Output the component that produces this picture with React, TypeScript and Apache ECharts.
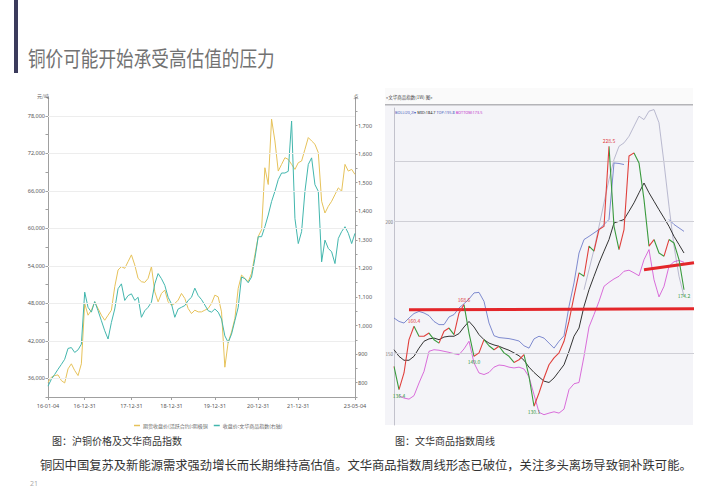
import React, { useEffect, useRef } from "react";
import * as echarts from "echarts";

// ---------------- Left chart: 沪铜价格及文华商品指数 ----------------
const copperTickLabels = ["16-01-04", "16-12-31", "17-12-31", "18-12-31", "19-12-31", "20-12-31", "21-12-31", "23-05-04"];
const copperTickIndex = [0, 11, 25, 37, 50, 63, 75, 92];
const copperAnchorDates = ["2016-01-04", "2016-12-31", "2017-12-31", "2018-12-31", "2019-12-31", "2020-12-31", "2021-12-31", "2023-05-04"];

const copperPrice = [
  35360, 36160, 36430, 36540, 35630, 35250, 37500, 38310, 37240, 36430,
  38310, 47960, 46090, 46890, 48230, 47160, 46090, 45280, 46090, 46890,
  50640, 53320, 53860, 53590, 54660, 55740, 54130, 51980, 51450, 51340,
  51980, 53860, 49840, 48230, 49570, 50110, 48230, 47690, 47960, 48500,
  49570, 48770, 47160, 46350, 46890, 46620, 46620, 46890, 47160, 47960,
  49300, 49030, 46620, 37770, 41790, 43400, 45550, 50380, 52510, 51980,
  51450, 52790, 55740, 58690, 59760, 69680, 67000, 77460, 73970, 69150,
  70220, 71290, 71020, 70220, 69420, 70490, 70760, 72630, 74510, 73970,
  73440, 72100, 64320, 62440, 63510, 64320, 65390, 66460, 65930, 70220,
  69150, 69420, 68610,
];

const wenhuaIndex = [
  788, 812, 829, 847, 864, 882, 920, 923, 906, 915,
  935, 1117, 1064, 1047, 1084, 1052, 1017, 982, 953, 1011,
  1058, 1129, 1146, 1088, 1105, 1111, 1088, 1099, 1029, 1052,
  1064, 1082, 1146, 1182, 1164, 1141, 1099, 1076, 1029, 1058,
  1064, 1070, 1088, 1099, 1131, 1105, 1091, 1072, 1052, 1047,
  1058, 1047, 1023, 964, 941, 970, 1017, 1064, 1170, 1164,
  1150, 1170, 1235, 1311, 1311, 1346, 1387, 1434, 1470, 1511,
  1534, 1534, 1540, 1716, 1375, 1287, 1329, 1470, 1564, 1587,
  1493, 1470, 1223, 1299, 1270, 1258, 1217, 1305, 1329, 1346,
  1323, 1287, 1323,
];

const copperGridLevels = [36000, 42000, 48000, 54000, 60000, 66000, 72000, 78000];
const copperSeriesNames = ["期货收盘价(活跃合约):阴极铜", "收盘价:文华商品指数(右轴)"];

// ---------------- Right chart: 文华商品指数周线 ----------------
const weeklyClose = [
  145.2, 136.4, 142.7, 155.3, 160.4, 156.6, 156.6, 157.8, 155.3, 154.0,
  158.5, 159.7, 157.2, 165.4, 168.6, 157.8, 149.0, 150.3, 155.3, 153.0,
  151.5, 152.8, 150.3, 149.0, 146.7, 147.7, 149.6, 141.4, 130.1, 135.1,
  140.8, 145.8, 148.4, 150.3, 154.7, 162.3, 171.7, 180.6, 179.3, 190.7,
  188.8, 197.0, 198.2, 228.5, 198.2, 189.4, 197.0, 224.8, 226.0, 222.2,
  208.3, 190.7, 193.2, 188.1, 186.9, 193.2, 191.9, 185.6, 174.2,
];
const bollTop = [
  163.5, 162.2, 161.6, 163.5, 165.2, 166.0, 165.4, 164.4, 162.2, 161.0,
  161.0, 163.9, 164.8, 167.3, 168.9, 170.7, 173.0, 173.2, 169.8, 161.6,
  156.8, 156.1, 155.9, 155.7, 155.3, 154.8, 153.0, 152.1, 155.6, 156.6,
  155.9, 154.0, 152.1, 154.7, 156.8, 167.9, 176.8, 188.1, 193.2, 194.4,
  195.7, 197.0, 198.9, 200.8, 222.2, 222.0, 221.6, null, null, null,
  null, null, null, null, null, 200.8, 198.9, 197.6, 196.3,
];
const bollMid = [
  151.5, 149.0, 147.5, 147.5, 149.0, 152.1, 154.7, 155.6, 155.9, 155.3,
  156.3, 156.6, 156.6, 157.6, 160.1, 162.2, 160.1, 157.2, 155.3, 154.0,
  153.3, 152.8, 152.0, 151.3, 150.3, 149.2, 147.5, 144.9, 142.9, 141.2,
  139.6, 139.1, 140.8, 143.3, 145.8, 150.9, 156.6, 159.7, 167.9, 174.2,
  179.3, 184.3, 188.8, 193.2, 199.5, 200.1, 200.8, 203.9, 207.1, 210.9,
  214.6, 210.9, 207.7, 204.5, 201.4, 198.2, 194.4, 191.3, 188.1,
];
const bollBottom = [
  null, 134.1, 133.2, 132.8, 134.1, 138.9, 143.3, 150.9, 151.5, 151.3,
  150.9, 150.5, 150.0, 149.6, 151.8, 154.7, 146.5, 142.7, 142.1, 142.9,
  144.9, 145.7, 145.5, 144.9, 144.6, 144.9, 144.2, 141.2, 134.5, 127.8,
  126.9, 127.5, 128.0, 127.5, 129.0, 136.4, 138.6, 139.1, 149.0, 160.1,
  164.8, 169.8, 175.5, 177.0, 178.3, 179.3, 181.2, 181.6, 180.6, 179.5,
  185.6, 189.4, 178.0, 171.5, 175.5, 183.1, 184.8, 185.3, 184.6,
];
const outerArc = [
  null, null, null, null, null, null, null, null, null, null,
  null, null, null, null, null, null, null, null, null, null,
  null, null, null, null, null, null, null, null, null, null,
  null, null, null, null, null, null, null, null, 174.2, 181.8,
  189.4, 198.2, 207.1, 215.9, 223.5, 228.5, 229.8, 232.3, 236.1, 239.9,
  238.6, 241.8, 242.4, 237.4, 222.2, 205.8, 190.7, 179.3, 171.7,
];
const weeklyCategoryCount = 61;
const rightGridLevels = [150, 200, 223];
const rightGridLabels = ["150", "200", ""];
const closeLabelIdx = [1, 4, 14, 16, 28, 43, 58];
const closeLabelHigh = [false, true, true, false, false, true, false];
const redTrendLines = [
  [3, 166.6, 60, 167.0],
  [50, 181.8, 60, 184.4],
];

const CJK = '"Noto Sans CJK SC", "Noto Sans", sans-serif';

function fmtDate(t: number) {
  const d = new Date(t);
  const yy = String(d.getUTCFullYear()).slice(2);
  const mm = String(d.getUTCMonth() + 1).padStart(2, "0");
  const dd = String(d.getUTCDate()).padStart(2, "0");
  return `${yy}-${mm}-${dd}`;
}

function buildCopperCategories() {
  const out: string[] = [];
  for (let k = 0; k < copperTickIndex.length - 1; k++) {
    const i0 = copperTickIndex[k];
    const i1 = copperTickIndex[k + 1];
    const t0 = Date.parse(copperAnchorDates[k] + "T00:00:00Z");
    const t1 = Date.parse(copperAnchorDates[k + 1] + "T00:00:00Z");
    for (let i = i0; i < i1; i++) {
      out.push(i === i0 ? copperTickLabels[k] : fmtDate(t0 + ((t1 - t0) * (i - i0)) / (i1 - i0)));
    }
  }
  out.push(copperTickLabels[copperTickLabels.length - 1]);
  return out;
}

function buildWeeklyCategories() {
  const out: string[] = [];
  const start = Date.parse("2016-01-08T00:00:00Z");
  for (let i = 0; i < weeklyCategoryCount; i++) out.push(fmtDate(start + i * 46 * 86400000));
  return out;
}

export default function App() {
  const ref = useRef<HTMLDivElement>(null);

  useEffect(() => {
    document.body.style.margin = "0";
    if (!ref.current) return;
    const chart = echarts.init(ref.current, null, { renderer: "svg" });

    const copperCats = buildCopperCategories();
    const weeklyCats = buildWeeklyCategories();
    const tickSet = new Set(copperTickIndex);
    const isTick = (i: number) => tickSet.has(i);

    const pieces: any[] = [{ lte: 0, color: "#e0403c" }];
    for (let i = 1; i < weeklyClose.length; i++) {
      pieces.push({ gt: i - 1, lte: i, color: weeklyClose[i] >= weeklyClose[i - 1] ? "#e0403c" : "#3a9a3e" });
    }
    pieces.push({ gt: weeklyClose.length - 1, color: "#3a9a3e" });

    const axisGray = "#a0a0a0";
    const labelGray = "#555";

    const option: any = {
      animation: false,
      backgroundColor: "#ffffff",
      textStyle: { fontFamily: CJK },
      grid: [
        { left: 48, top: 97, width: 307, height: 300 },
        { left: 394, top: 108, width: 300, height: 317 },
      ],
      legend: {
        data: copperSeriesNames,
        left: 129,
        top: 418,
        icon: "rect",
        itemWidth: 6,
        itemHeight: 1.5,
        itemGap: 6,
        textStyle: { fontSize: 5, color: "#666", fontFamily: CJK, padding: [0, 0, 0, -2] },
      },
      visualMap: {
        type: "piecewise",
        show: false,
        dimension: 0,
        seriesIndex: 6,
        pieces,
      },
      xAxis: [
        {
          type: "category",
          gridIndex: 0,
          data: copperCats,
          boundaryGap: false,
          axisLine: { lineStyle: { color: axisGray, width: 1 } },
          axisTick: { interval: isTick, length: 3, lineStyle: { color: axisGray } },
          axisLabel: { interval: isTick, fontSize: 5.5, color: labelGray, margin: 6, fontFamily: "Noto Sans" },
          splitLine: { show: false },
        },
        {
          type: "category",
          gridIndex: 1,
          data: weeklyCats,
          boundaryGap: false,
          axisLine: { show: false },
          axisTick: { show: false },
          axisLabel: { show: false },
          splitLine: { show: false },
        },
      ],
      yAxis: [
        {
          type: "value",
          gridIndex: 0,
          position: "left",
          min: 33000,
          max: 81000,
          interval: 3000,
          axisLine: { show: true, lineStyle: { color: axisGray } },
          axisTick: { show: true, length: 2.5, lineStyle: { color: axisGray } },
          axisLabel: {
            fontSize: 5.5,
            color: labelGray,
            margin: 3,
            fontFamily: "Noto Sans",
            formatter: (v: number) => (v % 6000 === 0 ? v.toLocaleString("en-US") : ""),
          },
          splitLine: { show: false },
        },
        {
          type: "value",
          gridIndex: 0,
          position: "right",
          min: 750,
          max: 1800,
          interval: 50,
          axisLine: { show: true, lineStyle: { color: axisGray } },
          axisTick: { show: true, length: 2.5, lineStyle: { color: axisGray } },
          axisLabel: {
            fontSize: 5.5,
            color: labelGray,
            margin: 3,
            fontFamily: "Noto Sans",
            formatter: (v: number) => (v % 100 === 0 && v >= 800 && v <= 1700 ? v.toLocaleString("en-US") : ""),
          },
          splitLine: { show: false },
        },
        {
          type: "value",
          gridIndex: 1,
          min: 123,
          max: 243,
          axisLine: { show: true, lineStyle: { color: "#c2c2cc" } },
          axisTick: { show: false },
          axisLabel: { show: false },
          splitLine: { show: false },
        },
      ],
      series: [
        {
          name: copperSeriesNames[0],
          type: "line",
          xAxisIndex: 0,
          yAxisIndex: 0,
          data: copperPrice,
          symbol: "none",
          color: "#e6c25a",
          lineStyle: { width: 1, color: "#e6c25a" },
          markLine: {
            silent: true,
            symbol: ["none", "none"],
            label: { show: false },
            lineStyle: { color: "#ededed", width: 1, type: "solid" },
            data: copperGridLevels.map((v) => ({ yAxis: v })),
          },
        },
        {
          name: copperSeriesNames[1],
          type: "line",
          xAxisIndex: 0,
          yAxisIndex: 1,
          data: wenhuaIndex,
          symbol: "none",
          color: "#42b6ad",
          lineStyle: { width: 1, color: "#42b6ad" },
        },
        {
          name: "arc",
          type: "line",
          xAxisIndex: 1,
          yAxisIndex: 2,
          data: outerArc,
          symbol: "none",
          lineStyle: { width: 0.8, color: "#a9a9c4" },
        },
        {
          name: "TOP",
          type: "line",
          xAxisIndex: 1,
          yAxisIndex: 2,
          data: bollTop,
          symbol: "none",
          lineStyle: { width: 0.8, color: "#5f6fc4" },
        },
        {
          name: "MID",
          type: "line",
          xAxisIndex: 1,
          yAxisIndex: 2,
          data: bollMid,
          symbol: "none",
          lineStyle: { width: 1, color: "#333333" },
          markLine: {
            silent: true,
            symbol: ["none", "none"],
            lineStyle: { color: "#cfcfd6", width: 1, type: "solid" },
            data: rightGridLevels.map((v, i) => ({
              yAxis: v,
              label: {
                show: rightGridLabels[i] !== "",
                position: "start",
                formatter: rightGridLabels[i],
                fontSize: 4.5,
                color: "#777",
                distance: 1,
              },
            })),
          },
        },
        {
          name: "BOTTOM",
          type: "line",
          xAxisIndex: 1,
          yAxisIndex: 2,
          data: bollBottom,
          symbol: "none",
          lineStyle: { width: 0.8, color: "#d24ad2" },
        },
        {
          name: "close",
          type: "line",
          xAxisIndex: 1,
          yAxisIndex: 2,
          data: weeklyClose,
          symbol: "none",
          lineStyle: { width: 1.1 },
          z: 5,
          markPoint: {
            symbol: "circle",
            symbolSize: 0,
            silent: true,
            data: closeLabelIdx.map((idx, k) => ({
              coord: [idx, weeklyClose[idx]],
              value: weeklyClose[idx].toFixed(1),
              label: {
                show: true,
                position: closeLabelHigh[k] ? "top" : "bottom",
                distance: 3,
                fontSize: 5,
                color: closeLabelHigh[k] ? "#e03c3c" : "#3a9a3e",
                formatter: "{c}",
              },
            })),
          },
          markLine: {
            silent: true,
            symbol: ["none", "none"],
            label: { show: false },
            lineStyle: { color: "#e3262a", width: 3, type: "solid" },
            data: redTrendLines.map((l) => [{ coord: [l[0], l[1]] }, { coord: [l[2], l[3]] }]),
          },
        },
      ],
      graphic: [
        { type: "rect", z: 0, shape: { x: 14, y: 0, width: 4, height: 73 }, style: { fill: "#3b3b5c" } },
        {
          type: "text",
          z: 10,
          x: 28,
          y: 57,
          scaleX: 0.84,
          style: { text: "铜价可能开始承受高估值的压力", fontSize: 21, fontFamily: CJK, fill: "#727272", verticalAlign: "middle" },
        },
        // right panel
        { type: "rect", z: -10, shape: { x: 385, y: 88, width: 308, height: 337 }, style: { fill: "#f4f4f8" } },
        { type: "rect", z: -9, shape: { x: 385, y: 88, width: 308, height: 17 }, style: { fill: "#fafafa" } },
        { type: "rect", z: -8, shape: { x: 385, y: 104, width: 308, height: 1.5 }, style: { fill: "#b4b4b8" } },
        {
          type: "text",
          z: 10,
          x: 386,
          y: 97,
          style: { text: "«文华商品指数(1W) 图»", fontSize: 4.5, fontFamily: CJK, fill: "#444", verticalAlign: "middle" },
        },
        {
          type: "text",
          z: 10,
          x: 395,
          y: 112,
          style: {
            text: "{a|BOLL(20,2)▾} {b|MID:184.7} {c|TOP:195.8} {d|BOTTOM:173.5}",
            fontSize: 3.8,
            verticalAlign: "middle",
            rich: {
              a: { fontSize: 3.8, fill: "#4a5ab8", fontFamily: "Liberation Sans Narrow, Noto Sans" },
              b: { fontSize: 3.8, fill: "#222", fontFamily: "Liberation Sans Narrow, Noto Sans" },
              c: { fontSize: 3.8, fill: "#4a5ab8", fontFamily: "Liberation Sans Narrow, Noto Sans" },
              d: { fontSize: 3.8, fill: "#c030c8", fontFamily: "Liberation Sans Narrow, Noto Sans" },
            },
          },
        },
        // left chart axis names
        { type: "text", z: 10, x: 43, y: 95, style: { text: "元/吨", fontSize: 5, fontFamily: CJK, fill: "#666", align: "center", verticalAlign: "middle" } },
        { type: "text", z: 10, x: 356, y: 95, style: { text: "点", fontSize: 5, fontFamily: CJK, fill: "#666", align: "center", verticalAlign: "middle" } },
        // captions
        { type: "text", z: 10, x: 52, y: 440, style: { text: "图：沪铜价格及文华商品指数", fontSize: 10, fontFamily: CJK, fill: "#333", verticalAlign: "middle" } },
        { type: "text", z: 10, x: 395, y: 440, style: { text: "图：文华商品指数周线", fontSize: 10, fontFamily: CJK, fill: "#333", verticalAlign: "middle" } },
        {
          type: "text",
          z: 10,
          x: 40,
          y: 465,
          style: {
            text: "铜因中国复苏及新能源需求强劲增长而长期维持高估值。文华商品指数周线形态已破位，关注多头离场导致铜补跌可能。",
            fontSize: 12.3,
            fontFamily: CJK,
            fill: "#333",
            verticalAlign: "middle",
          },
        },
        { type: "text", z: 10, x: 30, y: 483, style: { text: "21", fontSize: 7, fontFamily: "Noto Sans", fill: "#aaa", verticalAlign: "middle" } },
      ],
    };

    chart.setOption(option);
    return () => chart.dispose();
  }, []);

  return <div ref={ref} style={{ width: 720, height: 489 }} />;
}
